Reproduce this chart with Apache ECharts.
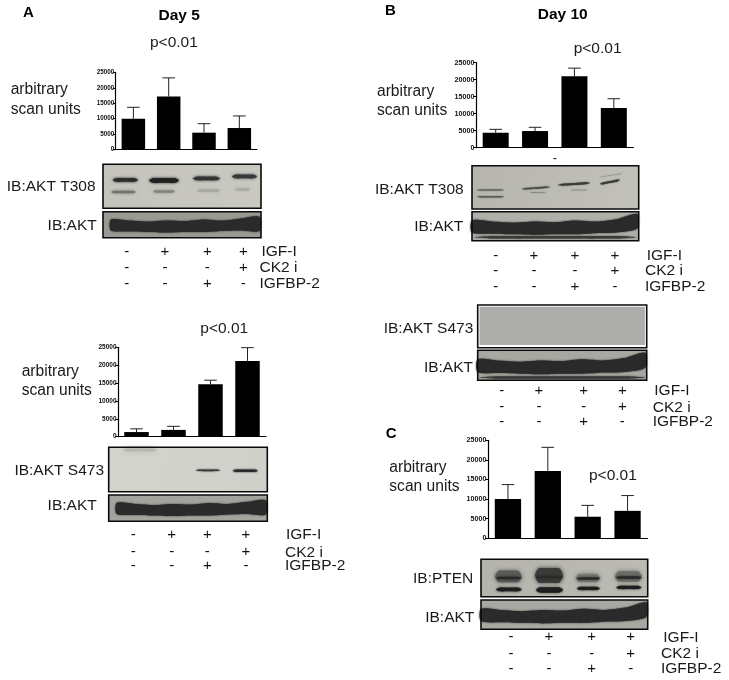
<!DOCTYPE html>
<html><head><meta charset="utf-8"><style>html,body{margin:0;padding:0;background:#fff}#c{width:729px;height:680px}</style>
<script src="https://cdn.jsdelivr.net/npm/echarts@6/dist/echarts.min.js"></script></head>
<body><div id="c"></div>
<script>
const lanes = ['Control','IGF-I','IGF-I + IGFBP-2','IGF-I + CK2 i'];
const igfRow = ['-','+','+','+'];
const ck2Row = ['-','-','-','+'];
const bpRow = ['-','-','+','-'];
const rowNames = ['IGF-I','CK2 i','IGFBP-2'];
const yTicks = {min:0,max:25000,interval:5000};
const aT308Mean = [10000,17200,5500,7000];
const aT308Top  = [13700,23200,8400,10900];
const aS473Mean = [1300,1900,14700,21200];
const aS473Top  = [2200,2900,15800,24900];
const bT308Mean = [4400,4900,21000,11700];
const bT308Top  = [5400,6000,23400,14400];
const cPtenMean = [10000,17200,5500,7000];
const cPtenTop  = [13700,23200,8400,10900];

const SANS = '"Liberation Sans", Arial, sans-serif';
const panels = [
 {mean:aT308Mean,top:aT308Top,l:115.7,r:257,t:72.3,b:149.7,fs:6.3,bw:23.5},
 {mean:aS473Mean,top:aS473Top,l:118,r:266,t:347.3,b:436.7,fs:6.5,bw:24.5},
 {mean:bT308Mean,top:bT308Top,l:476,r:633.5,t:62.7,b:147.7,fs:7.2,bw:26},
 {mean:cPtenMean,top:cPtenTop,l:488,r:647.5,t:440.3,b:538.3,fs:7.2,bw:26.3}
];
const grid=[],xAxis=[],yAxis=[],series=[];
panels.forEach((p,i)=>{
  grid.push({left:p.l,top:p.t,width:p.r-p.l,height:p.b-p.t,containLabel:false});
  xAxis.push({gridIndex:i,type:'category',data:lanes,axisLabel:{show:false},
    axisLine:{lineStyle:{color:'#000',width:1.2}},
    axisTick:{alignWithLabel:true,length:3,lineStyle:{color:'#000',width:1}}});
  yAxis.push({gridIndex:i,type:'value',min:yTicks.min,max:yTicks.max,interval:yTicks.interval,splitLine:{show:false},
    axisLine:{show:true,lineStyle:{color:'#000',width:1.2}},
    axisTick:{show:true,length:3,lineStyle:{color:'#000',width:1}},
    axisLabel:{fontFamily:SANS,fontWeight:'bold',fontSize:p.fs,color:'#111',margin:1.5,formatter:v=>String(v)}});
  series.push({type:'bar',xAxisIndex:i,yAxisIndex:i,data:p.mean,barWidth:p.bw,itemStyle:{color:'#000'},silent:true,animation:false});
  series.push({type:'custom',xAxisIndex:i,yAxisIndex:i,silent:true,animation:false,
    data:p.mean.map((m,k)=>[k,m,p.top[k]]),encode:{x:0,y:2},
    renderItem:(params,api)=>{
      const a=api.coord([api.value(0),api.value(1)]),b=api.coord([api.value(0),api.value(2)]);
      const st={stroke:'#222',lineWidth:1,fill:null};
      return {type:'group',children:[
        {type:'line',shape:{x1:a[0],y1:a[1],x2:b[0],y2:b[1]},style:st},
        {type:'line',shape:{x1:b[0]-6.3,y1:b[1],x2:b[0]+6.3,y2:b[1]},style:st}]};
    }});
});

/* ---- text and western-blot decoration ---- */
const g=[];
function txt(t,x,y,o){o=o||{};g.push({type:'text',silent:true,z:20,style:{text:t,x,y,fontFamily:SANS,fontSize:o.fs||15.5,fontWeight:o.w||'normal',
  fill:o.c||'#1a1a1a',textAlign:o.a||'left',textVerticalAlign:'middle'}});}
function bg(x0,y0,x1,y1,c0,c1){g.push({type:'rect',silent:true,z:5,shape:{x:x0,y:y0,width:x1-x0,height:y1-y0},
  style:{fill:{type:'linear',x:0,y:0,x2:1,y2:1,colorStops:[{offset:0,color:c0},{offset:1,color:c1}]}}});}
function frame(x0,y0,x1,y1,lw){g.push({type:'rect',silent:true,z:8,shape:{x:x0,y:y0,width:x1-x0,height:y1-y0},
  style:{fill:null,stroke:'#0a0a0a',lineWidth:lw||1.6}});}
function band(x0,x1,y,h,c,blur,tilt){
  const t=tilt||0,w=x1-x0,yAt=f=>y+t*(0.5-f)*2;
  g.push({type:'polygon',silent:true,z:6,shape:{smooth:0.2,points:[
   [x0,yAt(0)],[x0+.12*w,yAt(.12)-h/2],[x0+.5*w,yAt(.5)-h/2*1.05],[x1-.12*w,yAt(.88)-h/2],[x1,yAt(1)],
   [x1-.12*w,yAt(.88)+h/2],[x0+.5*w,yAt(.5)+h/2*1.05],[x0+.12*w,yAt(.12)+h/2]]},
   style:{fill:c,shadowBlur:blur==null?3:blur,shadowColor:c}});}
function blob(points,c,blur){g.push({type:'polygon',silent:true,z:6,shape:{smooth:0.25,points},style:{fill:c,shadowBlur:blur==null?2:blur,shadowColor:c}});}
function aktBlot(x0,y0,x1,y1,bgc,lead,rise){
  bg(x0,y0,x1,y1,bgc,bgc);
  const h=y1-y0,w=x1-x0,top=[],bot=[],n=8;
  const wT=[.30,.34,.38,.34,.36,.30,.34,.26,rise?.08:.2];
  const wB=[.72,.76,.78,.80,.78,.78,.74,.72,rise?.58:.74];
  for(let k=0;k<=n;k++){const x=x0+lead*w+(w-lead*w-1.5)*k/n;top.push([x,y0+h*wT[k]]);bot.unshift([x,y0+h*wB[k]]);}
  blob(top.concat(bot),'#2a2a2a',2);
  frame(x0,y0,x1,y1);
}
function rows(xs,ys,labelXs,fs){
  [igfRow,ck2Row,bpRow].forEach((r,j)=>{
    r.forEach((s,k)=>txt(s,xs[k],ys[j],{a:'center',fs:15,c:'#111'}));
    txt(rowNames[j],labelXs[j],ys[j],{fs:fs||15.5});
  });
}
function arb(x,y1,y2){txt('arbitrary',x,y1,{fs:15.6});txt('scan units',x,y2,{fs:15.6});}

/* Panel A top */
txt('A',23,13,{fs:15,w:'bold',c:'#000'});
txt('Day 5',158.5,15.5,{fs:15.5,w:'bold',c:'#000'});
txt('p<0.01',150,42.5);
arb(10.7,90,109.5);
txt('IB:AKT T308',95.5,187,{a:'right'});
bg(103,164.3,261,208.3,'#c4c4bc','#c9c9c2');
[[112.7,138,'#2c2c2c',3.5],[149,179,'#202020',4.5],[193,220,'#333',3.5],[232,257,'#363636',3.5]].forEach((b,i)=>band(b[0],b[1],[180,180.5,178.5,176.5][i],b[3],b[2],3));
[[111,136,'#74746e',2.5],[153,175,'#84847e',2.5],[197,220,'#a8a8a2',2.5],[235,250,'#acaca6',2.5]].forEach((b,i)=>band(b[0],b[1],[192,191.5,190.5,189.5][i],b[3],b[2],3));
frame(103,164.3,261,208.3);
txt('IB:AKT',96.7,225.7,{a:'right'});
aktBlot(103,211.7,261,237.7,'#9a9a94',.05,false);
rows([126.7,165,207.3,243.3],[251.7,267.7,284],[261.5,259.5,259.5]);
g.push({type:'rect',silent:true,z:30,shape:{x:0,y:288.2,width:360,height:6},style:{fill:'#fff'}});

/* Panel A bottom */
txt('p<0.01',200.3,328.5);
arb(21.7,371.7,390.7);
txt('IB:AKT S473',104,471,{a:'right'});
bg(108.7,447.3,267.3,491.7,'#d4d4ce','#d0d0ca');
band(123,157,450,3,'#b8b8b2',5);
band(196,220,470.3,1.6,'#3a3a3a',2);
band(232.7,258,470.8,2.4,'#2a2a2a',2);
frame(108.7,447.3,267.3,491.7);
txt('IB:AKT',96.7,505.7,{a:'right'});
aktBlot(108.7,495,267.3,521.3,'#a4a49e',.05,false);
rows([133.3,171.7,207.3,246],[535,552.3,565.7],[286,285,285]);

/* Panel B top */
txt('B',385,11,{fs:15,w:'bold',c:'#000'});
txt('Day 10',537.7,15,{fs:15.5,w:'bold',c:'#000'});
txt('p<0.01',573.7,48.3);
arb(377,91.7,110.7);
txt('-',555,158.5,{a:'center',fs:13,c:'#111'});
txt('IB:AKT T308',463.7,190,{a:'right'});
bg(472,165.7,638.7,209,'#b6b6ae','#c2c2ba');
band(476.7,504,190,1.4,'#6a6a66',1.5);
band(477,504,196.7,1.4,'#5c5c58',1.5);
band(522,550,188,1.4,'#4a4a46',1.5,1);
band(530,546,192.5,.8,'#888882',1.5);
band(558,590,184,1.8,'#3a3a36',1.5,1);
band(570,588,190,.8,'#96968f',1.5);
band(600,620,182,1.8,'#3a3a36',1.5,2);
band(598,622,175.5,.7,'#92928c',1.5,2);
frame(472,165.7,638.7,209);
txt('IB:AKT',463.3,226.7,{a:'right'});
aktBlot(472,211.7,638.7,240.7,'#b0b0aa',0,true);
band(473,637,237.3,2.5,'#3a3a38',2);
rows([495.7,534,575,615],[255.7,270.7,286.7],[646.7,645,645]);
g.push({type:'rect',silent:true,z:30,shape:{x:600,y:291.5,width:125,height:4},style:{fill:'#fff'}});

/* Panel B middle */
txt('IB:AKT S473',473.3,328.3,{a:'right'});
bg(477.7,305,646.7,347.7,'#fff','#fff');
g.push({type:'rect',silent:true,z:6,shape:{x:479.5,y:306.8,width:165.4,height:38.2},style:{fill:'#adadab'}});
frame(477.7,305,646.7,347.7);
txt('IB:AKT',473,367.7,{a:'right'});
aktBlot(477.7,350.3,646.7,380.3,'#a8a8a2',0,true);
band(478.5,646,377.5,2.5,'#3a3a38',2);
rows([501.7,539,583.7,622.3],[390.7,407.3,421.7],[654.3,652.7,652.7]);

/* Panel C */
txt('C',385.7,434,{fs:15,w:'bold',c:'#000'});
arb(389.3,467.3,486.7);
txt('p<0.01',589,475.7);
txt('IB:PTEN',473.3,578.3,{a:'right'});
bg(481,559.3,647.7,596.7,'#b4b4ac','#bcbcb4');
[[495,521.7,'#5a5a58',11],[535,563,'#3a3a38',14],[575.7,600,'#7c7c78',8],[615,641.7,'#6e6e6a',10]].forEach((b,i)=>{
  band(b[0],b[1],[576.5,575.5,578,576.5][i],b[3],b[2],4);
  band(b[0]+1,b[1],[578,577,578.5,577.5][i],2.5,'#2a2a2a',3);
  band(b[0]+1,b[1],[589.5,590,588.5,587.5][i],[3.5,5,3,3][i],'#1e1e1e',2.5);
});
frame(481,559.3,647.7,596.7);
txt('IB:AKT',474.3,617.7,{a:'right'});
aktBlot(481,600,647.7,629.3,'#a8a8a2',0,true);
rows([511,549,591.7,630.7],[637.3,654,668.7],[663.3,661,661]);

const chart=echarts.init(document.getElementById('c'),null,{width:729,height:680,renderer:'canvas'});
chart.setOption({animation:false,backgroundColor:'#fff',grid,xAxis,yAxis,series,graphic:{elements:g}});
</script></body></html>
